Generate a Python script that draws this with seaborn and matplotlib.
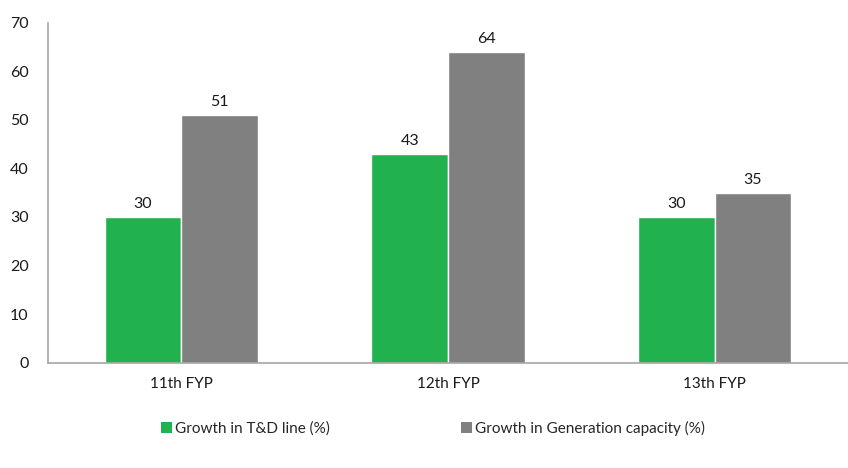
import matplotlib
matplotlib.use("Agg")
import matplotlib.pyplot as plt
import seaborn as sns
import pandas as pd
from matplotlib.patches import Patch

categories = ["11th FYP", "12th FYP", "13th FYP"]
td_growth = [30, 43, 30]
gen_growth = [51, 64, 35]
series_names = ["Growth in T&D line (%)", "Growth in Generation capacity (%)"]
colors = ["#21B14F", "#808080"]

df = pd.DataFrame({
    "plan": categories * 2,
    "series": [series_names[0]] * 3 + [series_names[1]] * 3,
    "value": td_growth + gen_growth,
})

sns.set_style("white")
plt.rcParams["font.family"] = ["Lato", "DejaVu Sans"]

W, H = 848, 468
fig = plt.figure(figsize=(W / 100, H / 100), dpi=100)
ax = fig.add_axes([48 / W, 1 - 362.7 / H, 800 / W, (362.7 - 22.7) / H])

sns.barplot(data=df, x="plan", y="value", hue="series", palette=colors,
            width=0.575, gap=0, saturation=1, ax=ax, legend=False)

for cont in ax.containers:
    ax.bar_label(cont, fmt="%.0f", padding=4, fontsize=11.5, color="#1a1a1a")

ax.set_xlim(-0.5, -0.5 + 800 / 268)
ax.set_ylim(0, 70)
ax.set_yticks(range(0, 71, 10))
ax.set_xlabel("")
ax.set_ylabel("")

# boundary ticks between categories, labels centred on each group
ax.set_xticks([-0.5, 0.5, 1.5, 2.5])
ax.set_xticklabels([])
ax.set_xticks(range(len(categories)), minor=True)
ax.set_xticklabels(categories, minor=True)
ax.tick_params(axis="x", which="minor", length=0, pad=10, labelsize=11, labelcolor="#1a1a1a")
ax.tick_params(axis="x", which="major", length=5, width=1, color="#a6a6a6", direction="out")
ax.tick_params(axis="y", length=5, width=1, color="#a6a6a6", direction="out",
               labelsize=11.5, labelcolor="#1a1a1a", pad=9)

for side in ["top", "right"]:
    ax.spines[side].set_visible(False)
for side in ["left", "bottom"]:
    ax.spines[side].set_color("#a6a6a6")
    ax.spines[side].set_linewidth(1.2)

handles = [Patch(facecolor=c, edgecolor="none") for c in colors]
fig.legend(handles, series_names, loc="center", bbox_to_anchor=(0.511, 1 - 428 / H),
           ncol=2, frameon=False, fontsize=11, handlelength=0.7, handleheight=0.7,
           handletextpad=0.2, columnspacing=8.6)

fig.savefig("out.png", dpi=100)
